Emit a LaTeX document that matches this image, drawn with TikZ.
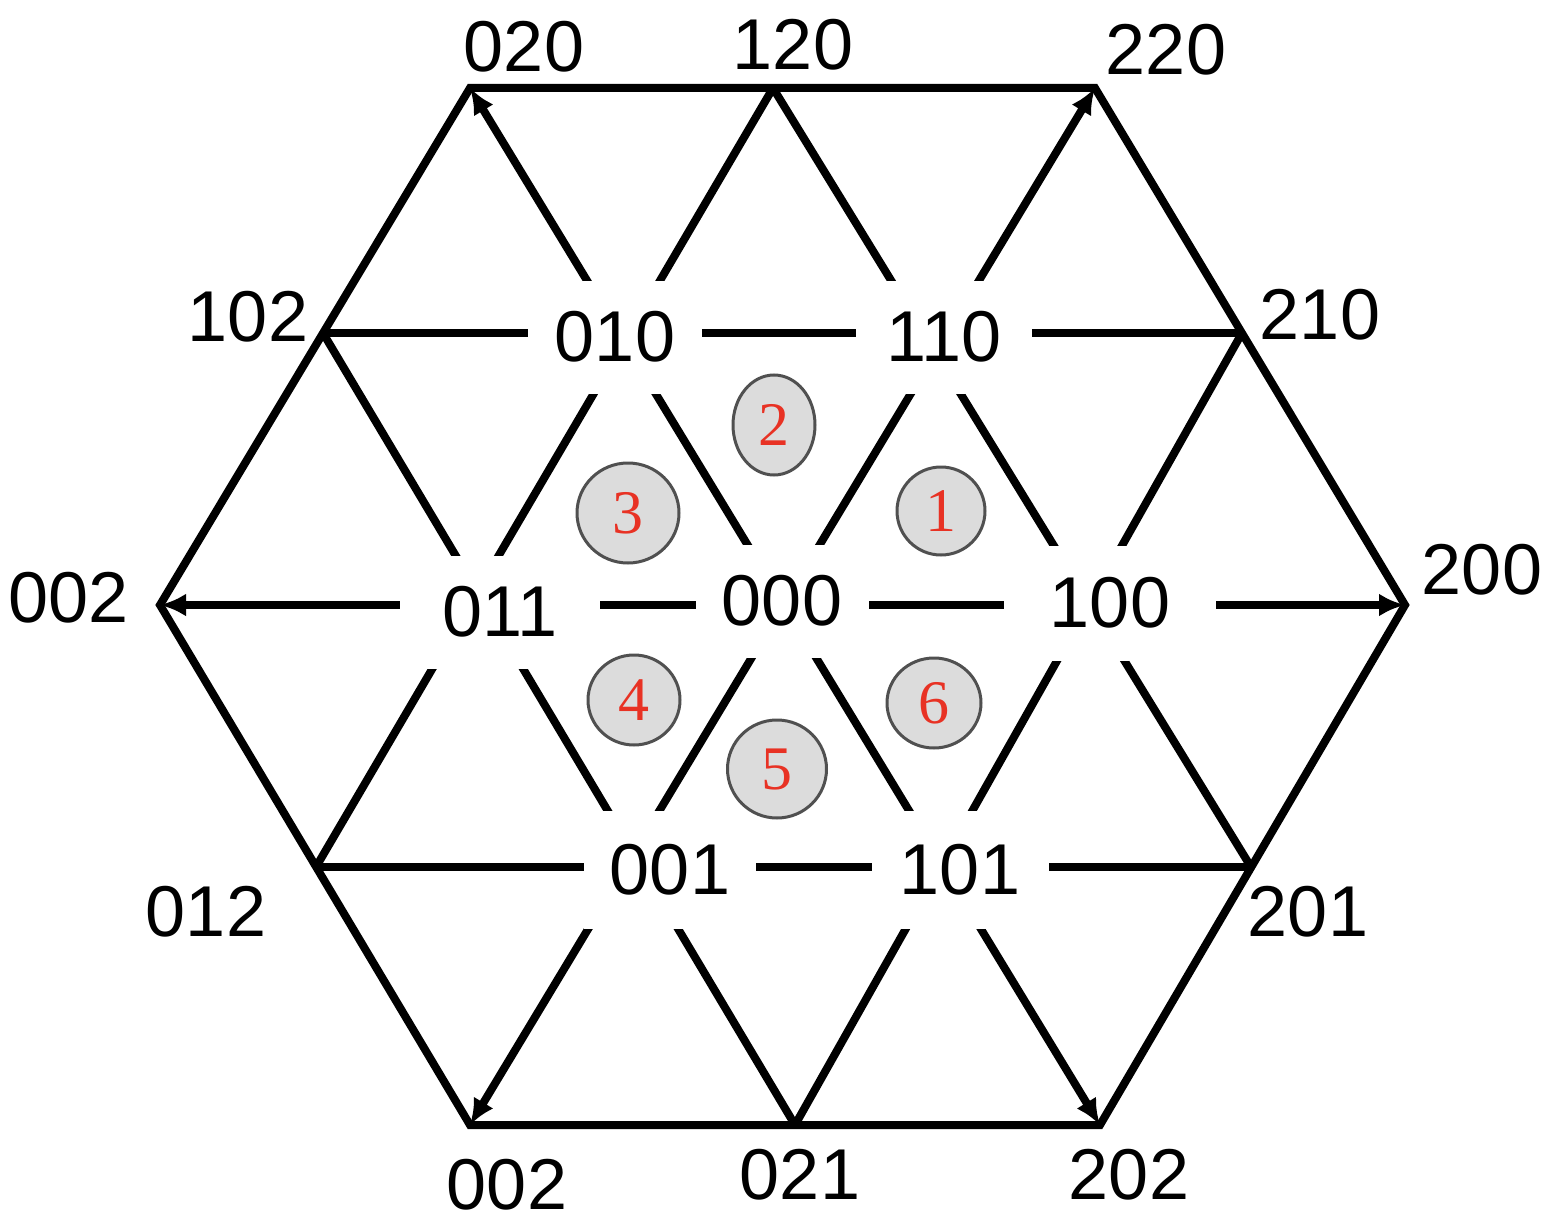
\documentclass[tikz,border=0pt]{standalone}
\usepackage{fontspec}
\setmainfont{Liberation Sans}
\newfontfamily\numfont{Liberation Serif}
\usetikzlibrary{arrows.meta,shapes.geometric}
\definecolor{numred}{RGB}{232,50,36}
\definecolor{discfill}{RGB}{220,220,220}
\definecolor{discedge}{RGB}{80,80,80}
\begin{document}
\begin{tikzpicture}[x=1pt,y=-1pt,
  edge/.style={line width=8pt, line join=miter},
  vec/.style={edge, {Latex[length=26pt,width=23pt]}-{Latex[length=26pt,width=23pt]}},
  inlab/.style={fill=white, inner sep=0pt, font=\fontsize{72}{72}\selectfont},
  outlab/.style={inner sep=0pt, font=\fontsize{72}{72}\selectfont},
  disc/.style={ellipse, draw=discedge, fill=discfill, line width=3pt, inner sep=0pt,
    text=numred, font=\numfont\fontsize{62}{62}\selectfont},
]
\useasboundingbox[fill=white] (0,0) rectangle (1551,1228);

% outer lattice points
\coordinate (V020) at (470,88);
\coordinate (V120) at (773,88);
\coordinate (V220) at (1095,88);
\coordinate (V102) at (323,333);
\coordinate (V210) at (1242,333);
\coordinate (V002L) at (160,605);
\coordinate (V200) at (1405,605);
\coordinate (V012) at (316,867);
\coordinate (V201) at (1251,867);
\coordinate (V002B) at (470,1125);
\coordinate (V021) at (795,1125);
\coordinate (V202) at (1100,1125);

% hexagon
\draw[edge] (V020) -- (V220) -- (V200) -- (V202) -- (V002B) -- (V002L) -- cycle;
% inner lattice lines
\draw[edge] (V102) -- (V210);
\draw[edge] (V012) -- (V201);
\draw[edge] (V120) -- (V201);
\draw[edge] (V102) -- (V021);
\draw[edge] (V012) -- (V120);
\draw[edge] (V021) -- (V210);
% large vectors through the centre
\draw[vec] (V002L) -- (V200);
\draw[vec] (V020) -- (V202);
\draw[vec] (V002B) -- (V220);

% inner labels (white background breaks the lines)
\node[inlab, minimum width=174pt, minimum height=113pt] (n010) at (615,337) {010};
\node[inlab, minimum width=176pt, minimum height=113pt] (n110) at (944,337) {110};
\node[inlab, minimum width=200pt, minimum height=113pt] (n011) at (500,612) {011};
\node[inlab, minimum width=173pt, minimum height=113pt] (n000) at (782,601) {000};
\node[inlab, minimum width=212pt, minimum height=115pt] (n100) at (1110,603) {100};
\node[inlab, minimum width=172pt, minimum height=118pt] (n001) at (670,870) {001};
\node[inlab, minimum width=177pt, minimum height=118pt] (n101) at (960,870) {101};

% outer labels
\node[outlab] (l020) at (524,47) {020};
\node[outlab] (l120) at (793,45) {120};
\node[outlab] (l220) at (1166,50) {220};
\node[outlab] (l102) at (248,317) {102};
\node[outlab] (l210) at (1320,315) {210};
\node[outlab] (l002a) at (69,598) {002};
\node[outlab] (l200) at (1482,570) {200};
\node[outlab] (l012) at (206,912) {012};
\node[outlab] (l201) at (1308,912) {201};
\node[outlab] (l002b) at (507,1185) {002};
\node[outlab] (l021) at (800,1175) {021};
\node[outlab] (l202) at (1129,1175) {202};

% sector numbers
\node[disc, minimum width=88pt, minimum height=88pt] (s1) at (941,511) {1};
\node[disc, minimum width=82pt, minimum height=100pt] (s2) at (774,425) {2};
\node[disc, minimum width=102pt, minimum height=100pt] (s3) at (628,513) {3};
\node[disc, minimum width=92pt, minimum height=90pt] (s4) at (634,700) {4};
\node[disc, minimum width=99pt, minimum height=98pt] (s5) at (777,769) {5};
\node[disc, minimum width=94pt, minimum height=90pt] (s6) at (934,703) {6};
\end{tikzpicture}
\end{document}
